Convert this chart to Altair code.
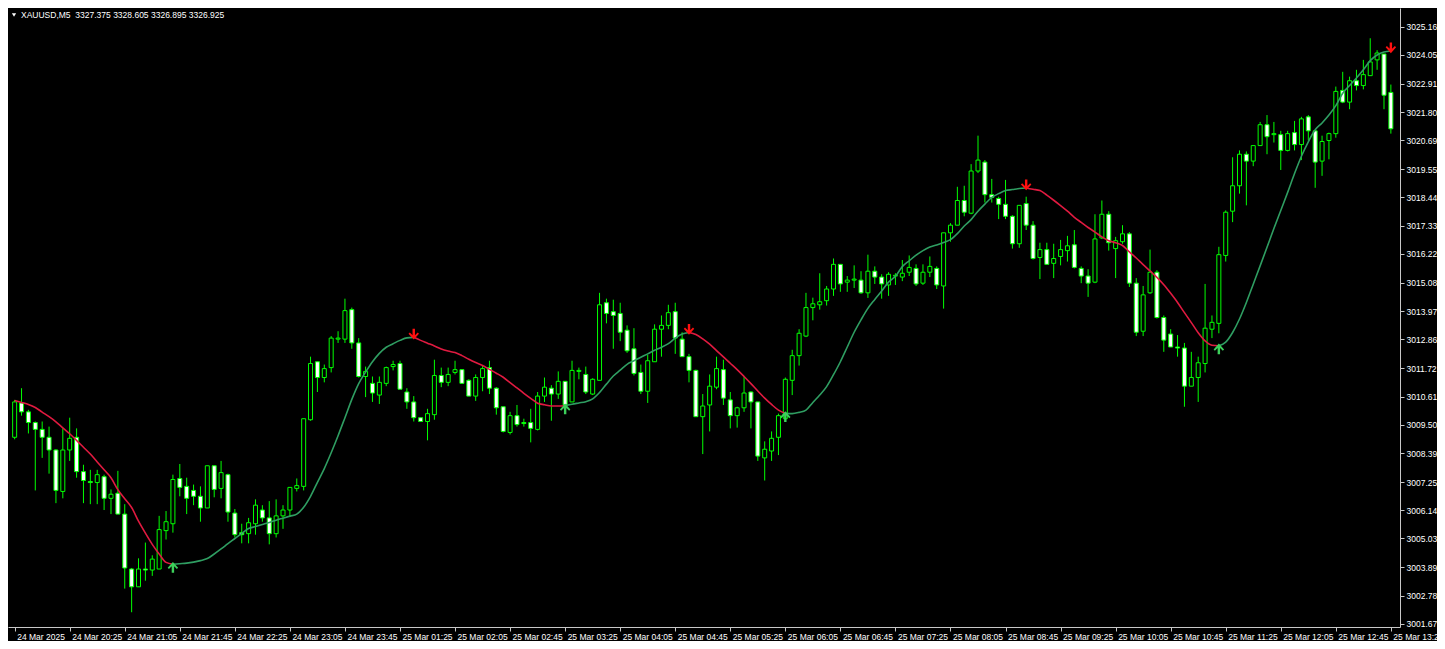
import json
import altair as alt
import pandas as pd

# ---------------- data ----------------
opens = [3009.01, 3010.36, 3010.01, 3009.59, 3009.32, 3009.01, 3008.51, 3006.88, 3008.51, 3009.01,
         3007.66, 3007.27, 3007.23, 3007.46, 3006.61, 3006.81, 3005.99, 3003.83, 3003.13, 3003.83,
         3003.79, 3003.83, 3005.34, 3005.61, 3007.39, 3007.08, 3006.92, 3006.69, 3006.23, 3007.89,
         3007.00, 3007.54, 3006.03, 3005.26, 3005.22, 3005.61, 3006.15, 3005.84, 3005.22, 3005.92,
         3006.15, 3007.00, 3007.08, 3009.70, 3011.98, 3011.36, 3011.75, 3012.87, 3012.87, 3014.03,
         3012.72, 3011.40, 3011.13, 3010.67, 3011.13, 3011.79, 3011.91, 3010.79, 3010.40, 3009.78,
         3009.63, 3009.90, 3011.44, 3011.17, 3011.56, 3011.67, 3011.25, 3010.63, 3011.36, 3011.75,
         3010.94, 3010.21, 3009.20, 3009.86, 3009.59, 3009.59, 3009.32, 3010.63, 3010.94, 3010.71,
         3011.21, 3010.40, 3011.60, 3011.48, 3010.71, 3011.25, 3014.30, 3013.95, 3013.88, 3013.22,
         3012.49, 3011.56, 3010.82, 3011.98, 3013.26, 3013.41, 3013.95, 3012.87, 3012.18, 3011.64,
         3009.82, 3010.28, 3010.98, 3011.67, 3010.48, 3009.86, 3010.17, 3010.79, 3010.40, 3008.20,
         3008.47, 3009.01, 3009.74, 3011.25, 3012.22, 3012.99, 3014.11, 3014.22, 3014.38, 3014.84,
         3015.81, 3015.11, 3015.19, 3015.19, 3014.69, 3015.54, 3015.31, 3015.00, 3015.35, 3015.31,
         3015.50, 3015.65, 3015.07, 3015.50, 3015.65, 3014.96, 3017.05, 3017.35, 3018.32, 3017.82,
         3019.48, 3019.83, 3018.55, 3018.40, 3018.17, 3017.70, 3016.62, 3018.20, 3017.35, 3016.08,
         3016.39, 3015.85, 3016.12, 3016.35, 3016.58, 3015.65, 3015.35, 3015.11, 3016.85, 3017.78,
         3016.43, 3016.70, 3017.01, 3015.07, 3013.18, 3014.69, 3015.50, 3013.72, 3013.07, 3012.56,
         3012.52, 3011.02, 3011.36, 3011.91, 3013.26, 3013.49, 3016.16, 3017.90, 3018.90, 3020.14,
         3019.87, 3020.48, 3021.30, 3020.91, 3020.91, 3020.29, 3020.99, 3020.52, 3021.61, 3021.06,
         3019.87, 3020.68, 3020.95, 3022.65, 3022.19, 3023.03, 3022.84, 3023.23, 3023.85, 3024.08,
         3022.57]

highs = [3010.48, 3010.94, 3010.09, 3009.63, 3009.63, 3009.43, 3008.54, 3009.36, 3009.78, 3009.36,
         3007.93, 3007.73, 3007.73, 3007.54, 3006.96, 3007.69, 3006.38, 3003.87, 3004.25, 3004.87,
         3004.37, 3005.92, 3006.11, 3007.54, 3007.96, 3007.42, 3007.15, 3007.08, 3007.89, 3007.89,
         3008.08, 3007.58, 3006.19, 3005.61, 3005.84, 3006.57, 3006.34, 3006.50, 3006.57, 3006.34,
         3007.04, 3007.39, 3009.74, 3012.18, 3011.98, 3011.87, 3012.99, 3013.18, 3014.46, 3014.11,
         3012.91, 3011.79, 3011.40, 3011.40, 3011.79, 3012.02, 3012.02, 3010.94, 3010.63, 3009.78,
         3010.13, 3012.06, 3011.75, 3011.75, 3012.02, 3011.67, 3011.29, 3011.48, 3011.83, 3012.02,
         3010.98, 3010.21, 3010.01, 3010.28, 3009.74, 3010.13, 3010.79, 3011.36, 3011.06, 3011.60,
         3011.21, 3012.02, 3011.75, 3011.79, 3011.33, 3014.69, 3014.46, 3014.42, 3014.30, 3013.41,
         3013.30, 3011.87, 3012.25, 3013.45, 3013.80, 3014.22, 3014.30, 3013.14, 3012.29, 3011.67,
         3010.71, 3011.48, 3012.18, 3012.06, 3010.79, 3010.21, 3011.40, 3010.82, 3010.40, 3008.85,
         3009.24, 3009.94, 3011.36, 3012.45, 3013.26, 3014.69, 3014.50, 3015.46, 3014.96, 3016.04,
         3015.81, 3015.35, 3015.77, 3015.54, 3016.19, 3015.73, 3015.42, 3015.50, 3015.46, 3015.98,
         3016.16, 3015.81, 3015.81, 3016.12, 3015.73, 3017.05, 3017.43, 3018.86, 3018.90, 3019.75,
         3020.87, 3019.91, 3019.17, 3018.47, 3019.13, 3017.74, 3018.13, 3018.47, 3017.51, 3016.66,
         3016.66, 3016.62, 3016.77, 3016.93, 3017.16, 3015.73, 3015.62, 3017.78, 3018.32, 3017.90,
         3016.89, 3017.35, 3017.08, 3015.27, 3014.96, 3016.39, 3015.58, 3013.80, 3013.26, 3013.03,
         3012.72, 3012.37, 3012.18, 3015.04, 3013.80, 3016.50, 3017.93, 3020.02, 3020.29, 3020.25,
         3020.48, 3021.41, 3021.68, 3021.41, 3021.06, 3021.06, 3021.45, 3021.61, 3021.68, 3021.06,
         3020.87, 3020.99, 3022.80, 3023.38, 3023.19, 3023.46, 3023.85, 3024.70, 3024.23, 3024.08,
         3022.88]

lows = [3008.93, 3009.86, 3009.16, 3006.92, 3008.20, 3007.58, 3006.42, 3006.61, 3008.08, 3007.42,
        3006.42, 3006.38, 3006.38, 3006.15, 3005.99, 3005.99, 3003.06, 3002.13, 3003.13, 3003.37,
        3003.56, 3003.83, 3004.99, 3005.26, 3006.69, 3005.99, 3006.34, 3005.69, 3006.23, 3006.65,
        3006.61, 3005.69, 3005.07, 3004.84, 3004.84, 3005.18, 3005.69, 3004.80, 3005.07, 3005.41,
        3005.88, 3006.88, 3006.92, 3009.66, 3010.79, 3011.17, 3011.56, 3012.72, 3012.72, 3012.49,
        3011.36, 3010.59, 3010.40, 3010.32, 3011.02, 3011.64, 3010.90, 3010.13, 3009.63, 3009.63,
        3008.89, 3009.70, 3010.98, 3011.02, 3011.48, 3011.13, 3010.63, 3010.44, 3010.82, 3010.71,
        3009.90, 3009.20, 3009.12, 3009.43, 3009.43, 3008.81, 3009.28, 3010.40, 3009.66, 3010.52,
        3010.01, 3010.40, 3011.29, 3010.71, 3010.67, 3011.25, 3013.49, 3012.49, 3012.79, 3012.33,
        3011.44, 3010.71, 3010.36, 3011.98, 3012.18, 3013.26, 3012.29, 3012.18, 3011.17, 3009.82,
        3008.35, 3009.24, 3010.90, 3010.28, 3009.36, 3009.39, 3010.01, 3009.36, 3008.08, 3007.31,
        3008.08, 3008.31, 3009.63, 3010.67, 3011.83, 3012.95, 3013.61, 3014.03, 3014.19, 3014.57,
        3014.73, 3014.73, 3014.88, 3014.65, 3014.49, 3015.04, 3014.46, 3014.57, 3015.00, 3015.15,
        3015.35, 3014.96, 3015.00, 3015.31, 3014.84, 3014.07, 3016.70, 3017.35, 3017.70, 3017.78,
        3019.40, 3018.24, 3018.24, 3017.59, 3017.59, 3016.43, 3016.46, 3017.16, 3016.00, 3015.23,
        3015.81, 3015.27, 3015.77, 3015.92, 3015.65, 3015.07, 3014.53, 3015.07, 3016.81, 3016.35,
        3015.27, 3016.62, 3014.92, 3012.99, 3012.99, 3014.65, 3013.68, 3012.37, 3012.56, 3012.18,
        3010.21, 3011.02, 3010.40, 3011.56, 3012.91, 3013.10, 3015.92, 3017.47, 3018.59, 3018.13,
        3019.67, 3020.48, 3020.14, 3020.60, 3019.52, 3020.25, 3020.29, 3019.91, 3020.68, 3018.82,
        3019.29, 3019.94, 3020.79, 3022.15, 3021.91, 3022.65, 3022.69, 3023.23, 3023.46, 3021.91,
        3020.95]

closes = [3010.40, 3010.01, 3009.59, 3009.32, 3009.01, 3008.51, 3006.92, 3008.51, 3008.97, 3007.66,
          3007.31, 3007.23, 3007.54, 3006.61, 3006.77, 3005.99, 3003.87, 3003.13, 3003.83, 3003.79,
          3004.22, 3005.38, 3005.69, 3007.35, 3007.04, 3006.61, 3006.69, 3006.23, 3007.89, 3006.96,
          3007.62, 3006.07, 3005.18, 3005.18, 3005.65, 3006.34, 3005.84, 3005.22, 3005.92, 3006.15,
          3007.04, 3007.11, 3009.74, 3011.91, 3011.36, 3011.71, 3012.91, 3012.91, 3013.99, 3012.72,
          3011.40, 3011.60, 3010.75, 3011.17, 3011.75, 3011.87, 3010.90, 3010.40, 3009.78, 3009.63,
          3009.94, 3011.44, 3011.17, 3011.48, 3011.67, 3011.13, 3010.63, 3011.36, 3011.71, 3010.94,
          3010.17, 3009.24, 3009.86, 3009.51, 3009.55, 3009.36, 3010.63, 3010.98, 3010.71, 3011.21,
          3010.28, 3011.64, 3011.64, 3010.79, 3011.29, 3014.22, 3013.88, 3013.80, 3013.14, 3012.41,
          3011.52, 3010.82, 3012.02, 3013.26, 3013.41, 3013.91, 3012.91, 3012.18, 3011.64, 3009.82,
          3010.24, 3011.02, 3011.71, 3010.55, 3009.86, 3010.17, 3010.75, 3010.40, 3008.27, 3008.54,
          3008.97, 3009.86, 3011.29, 3012.22, 3013.10, 3014.11, 3014.26, 3014.34, 3014.84, 3015.81,
          3015.04, 3015.19, 3015.23, 3014.69, 3015.54, 3015.31, 3015.04, 3015.42, 3015.38, 3015.46,
          3015.69, 3015.04, 3015.50, 3015.73, 3015.00, 3017.05, 3017.35, 3018.32, 3017.86, 3019.48,
          3019.91, 3018.55, 3018.44, 3018.17, 3017.70, 3016.62, 3018.13, 3017.35, 3016.04, 3016.39,
          3015.81, 3016.04, 3016.39, 3016.54, 3015.69, 3015.35, 3015.07, 3016.81, 3017.78, 3016.66,
          3016.74, 3017.01, 3015.07, 3013.14, 3014.61, 3015.50, 3013.72, 3012.83, 3012.56, 3012.52,
          3011.02, 3011.36, 3011.94, 3013.30, 3013.53, 3016.19, 3017.86, 3018.90, 3020.14, 3019.87,
          3020.48, 3021.30, 3020.83, 3020.95, 3020.29, 3020.95, 3020.52, 3021.53, 3021.06, 3019.83,
          3020.64, 3020.95, 3022.61, 3022.19, 3023.03, 3022.84, 3023.27, 3023.77, 3024.12, 3022.46,
          3021.14]

ma_values = [3010.46, 3010.38, 3010.30, 3010.18, 3010.00, 3009.82, 3009.62, 3009.38, 3009.15, 3008.89,
             3008.62, 3008.35, 3008.04, 3007.73, 3007.42, 3006.95, 3006.59, 3006.25, 3005.71, 3005.24,
             3004.80, 3004.42, 3004.09, 3004.02, 3004.04, 3004.06, 3004.10, 3004.16, 3004.24, 3004.42,
             3004.62, 3004.83, 3005.03, 3005.23, 3005.42, 3005.50, 3005.58, 3005.66, 3005.75, 3005.83,
             3005.91, 3005.99, 3006.26, 3006.69, 3007.24, 3007.78, 3008.40, 3009.07, 3009.78, 3010.50,
             3011.12, 3011.57, 3011.98, 3012.31, 3012.55, 3012.69, 3012.82, 3012.92, 3012.94, 3012.82,
             3012.71, 3012.60, 3012.48, 3012.40, 3012.34, 3012.22, 3012.08, 3011.95, 3011.83, 3011.68,
             3011.53, 3011.37, 3011.16, 3010.95, 3010.74, 3010.54, 3010.35, 3010.29, 3010.24, 3010.24,
             3010.25, 3010.31, 3010.36, 3010.41, 3010.52, 3010.77, 3011.10, 3011.42, 3011.65, 3011.88,
             3012.02, 3012.16, 3012.29, 3012.43, 3012.55, 3012.69, 3012.91, 3013.07, 3013.13, 3013.05,
             3012.88, 3012.67, 3012.42, 3012.17, 3011.92, 3011.67, 3011.40, 3011.12, 3010.83, 3010.55,
             3010.30, 3010.08, 3009.95, 3009.94, 3009.99, 3010.08, 3010.38, 3010.67, 3011.00, 3011.47,
             3011.98, 3012.56, 3013.14, 3013.63, 3014.08, 3014.43, 3014.76, 3015.11, 3015.34, 3015.72,
             3015.95, 3016.17, 3016.35, 3016.49, 3016.57, 3016.67, 3016.78, 3017.02, 3017.32, 3017.57,
             3017.90, 3018.18, 3018.44, 3018.59, 3018.71, 3018.75, 3018.79, 3018.81, 3018.76, 3018.71,
             3018.53, 3018.33, 3018.12, 3017.90, 3017.66, 3017.46, 3017.26, 3017.08, 3016.89, 3016.74,
             3016.66, 3016.55, 3016.30, 3016.06, 3015.80, 3015.55, 3015.30, 3015.01, 3014.67, 3014.31,
             3013.91, 3013.52, 3013.12, 3012.80, 3012.63, 3012.61, 3012.75, 3013.13, 3013.66, 3014.31,
             3015.03, 3015.75, 3016.48, 3017.22, 3017.93, 3018.64, 3019.38, 3020.06, 3020.63, 3021.10,
             3021.37, 3021.68, 3022.05, 3022.54, 3022.84, 3023.14, 3023.46, 3023.82, 3024.04, 3024.16,
             3024.20]

peak_bars = [58, 98, 147, 200]      # red down arrows
trough_bars = [23, 80, 112, 175]    # green up arrows

time_labels = ["24 Mar 2025", "24 Mar 20:25", "24 Mar 21:05", "24 Mar 21:45", "24 Mar 22:25",
               "24 Mar 23:05", "24 Mar 23:45", "25 Mar 01:25", "25 Mar 02:05", "25 Mar 02:45",
               "25 Mar 03:25", "25 Mar 04:05", "25 Mar 04:45", "25 Mar 05:25", "25 Mar 06:05",
               "25 Mar 06:45", "25 Mar 07:25", "25 Mar 08:05", "25 Mar 08:45", "25 Mar 09:25",
               "25 Mar 10:05", "25 Mar 10:45", "25 Mar 11:25", "25 Mar 12:05", "25 Mar 12:45",
               "25 Mar 13:25"]
label_step = 8

price_ticks = [3001.67, 3002.78, 3003.89, 3005.03, 3006.14, 3007.25, 3008.39, 3009.50, 3010.61,
               3011.72, 3012.86, 3013.97, 3015.08, 3016.22, 3017.33, 3018.44, 3019.55, 3020.69,
               3021.80, 3022.91, 3024.05, 3025.16]

header_text = "XAUUSD,M5\u00a0 3327.375 3328.605 3326.895 3326.925"

# ---------------- styling ----------------
FONT = "Liberation Sans"
FS = 8.5
LIME = "#00ff00"
AXIS_COL = "#c8c8c8"
TXT_COL = "#ffffff"
MA_RED = "#e01a40"
MA_GREEN = "#2f9e62"
ARROW_RED = "#ff1010"
ARROW_GREEN = "#3ccf5a"

n = len(opens)
candles = pd.DataFrame({"i": list(range(n)), "o": opens, "h": highs, "l": lows, "c": closes})
candles["kind"] = ["bull" if c >= o else "bear" for o, c in zip(opens, closes)]

# MA split into falling (red) / rising (green) runs between turning points
rows = []
start, seg = 0, 0
for t in sorted(peak_bars + trough_bars):
    direction = "down" if t in trough_bars else "up"
    for j in range(start, min(t, n - 1) + 1):
        rows.append({"i": j, "ma": ma_values[j], "seg": seg, "dir": direction})
    start, seg = t, seg + 1
ma_df = pd.DataFrame(rows)

peaks_df = pd.DataFrame({"i": peak_bars, "ma": [ma_values[k] for k in peak_bars]})
troughs_df = pd.DataFrame({"i": trough_bars, "ma": [ma_values[k] for k in trough_bars]})

x_scale = alt.Scale(domain=[-0.24, 200.6], nice=False, zero=False)
y_scale = alt.Scale(domain=[3001.55, 3025.89], nice=False, zero=False)

label_expr = json.dumps(time_labels) + "[round(datum.value / %d)]" % label_step

x_axis = alt.Axis(values=list(range(0, n, label_step)), labelExpr=label_expr, title=None,
                  grid=False, tickSize=4, tickColor=AXIS_COL, domainColor=AXIS_COL,
                  labelColor=TXT_COL, labelFont=FONT, labelFontSize=FS, labelAlign="left",
                  labelBaseline="top", labelPadding=1, labelOffset=2, labelOverlap=False,
                  labelFlush=False)
y_axis = alt.Axis(orient="right", values=price_ticks, format=".2f", title=None, grid=False,
                  tickSize=4, tickColor=AXIS_COL, domainColor=AXIS_COL, labelColor=TXT_COL,
                  labelFont=FONT, labelFontSize=FS, labelPadding=2, labelOverlap=False,
                  labelFlush=False)


def X(field="i:Q"):
    return alt.X(field, scale=x_scale, axis=x_axis)


def Y(field):
    return alt.Y(field, scale=y_scale, axis=y_axis)


wicks = alt.Chart(candles).mark_rule(color=LIME, strokeWidth=1).encode(
    x=X(), y=Y("l:Q"), y2="h:Q")

bodies = alt.Chart(candles).mark_bar(size=4, stroke=LIME, strokeWidth=1).encode(
    x=X(), y=Y("o:Q"), y2="c:Q",
    fill=alt.Fill("kind:N", scale=alt.Scale(domain=["bull", "bear"], range=["#000000", "#ffffff"]),
                  legend=None))

ma_line = alt.Chart(ma_df).mark_line(strokeWidth=1.6, interpolate="monotone").encode(
    x=X(), y=Y("ma:Q"), detail="seg:N",
    color=alt.Color("dir:N", scale=alt.Scale(domain=["down", "up"], range=[MA_RED, MA_GREEN]),
                    legend=None))

down_arrow = ("M-0.22,-1L0.22,-1L0.22,0.15L0.72,-0.35L0.95,-0.12L0,0.95"
              "L-0.95,-0.12L-0.72,-0.35L-0.22,0.15Z")
up_arrow = ("M-0.22,1L0.22,1L0.22,-0.15L0.72,0.35L0.95,0.12L0,-0.95"
            "L-0.95,0.12L-0.72,0.35L-0.22,-0.15Z")

peak_marks = alt.Chart(peaks_df).mark_point(shape=down_arrow, filled=True, size=121, opacity=1,
                                            color=ARROW_RED, yOffset=-3).encode(x=X(), y=Y("ma:Q"))
trough_marks = alt.Chart(troughs_df).mark_point(shape=up_arrow, filled=True, size=121, opacity=1,
                                                color=ARROW_GREEN, yOffset=3).encode(x=X(), y=Y("ma:Q"))

header_df = pd.DataFrame({"t": [header_text]})
header = alt.Chart(header_df).mark_text(align="left", baseline="middle", font=FONT, fontSize=FS,
                                        color=TXT_COL).encode(
    x=alt.value(13), y=alt.value(7), text="t:N")
header_tri = alt.Chart(header_df).mark_point(shape="triangle-down", filled=True, size=18, opacity=1,
                                             color=TXT_COL).encode(x=alt.value(6), y=alt.value(7))

chart = alt.layer(wicks, bodies, ma_line, peak_marks, trough_marks, header, header_tri).properties(
    width=1392, height=619, background="#000000",
    autosize=alt.AutoSizeParams(type="none"),
    padding={"left": 0, "top": 0, "right": 37, "bottom": 14},
).configure_view(strokeWidth=0)

chart.save("out.html", embed_options={"renderer": "svg", "actions": False})
